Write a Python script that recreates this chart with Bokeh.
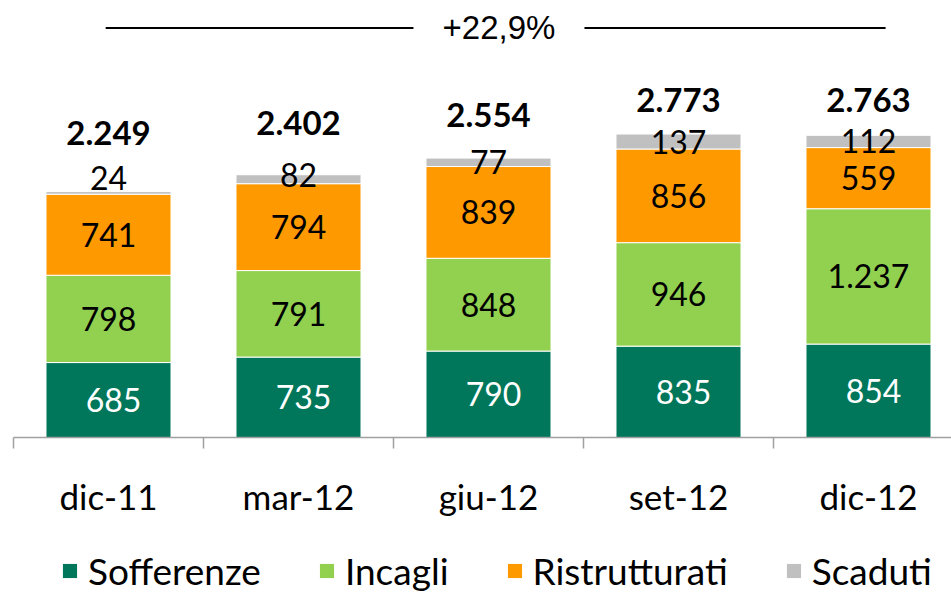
from bokeh.plotting import figure
from bokeh.models import ColumnDataSource, LinearAxis, FixedTicker, Legend, LegendItem
from bokeh.core.properties import value
from bokeh.embed import file_html
from bokeh.resources import INLINE

# ---------------- data ----------------
categories = ["dic-11", "mar-12", "giu-12", "set-12", "dic-12"]
series_names = ["Sofferenze", "Incagli", "Ristrutturati", "Scaduti"]
sofferenze = [685, 735, 790, 835, 854]
incagli = [798, 791, 848, 946, 1237]
ristrutturati = [741, 794, 839, 856, 559]
scaduti = [24, 82, 77, 137, 112]
totals = [2249, 2402, 2554, 2773, 2763]

# ---------------- styles ----------------
colors = ["#00775A", "#92D050", "#FF9900", "#C0C0C0"]
label_colors = ["white", "black", "black", "black"]
label_dx = [5, 0, 0, 0]                       # px shift of labels per series
scaduti_label_lift = [15, 4, 0, 0, 0]         # px lift of small labels
total_label_lift = [59, 52, 43, 34, 35]       # px above bar top
FONT = "Lato"

def fmt(n):
    return f"{n:,}".replace(",", ".")

xs = list(range(1, len(categories) + 1))
series = [sofferenze, incagli, ristrutturati, scaduti]

PX_X = 190.0      # px per category
PX_Y = 0.1094     # px per unit
p = figure(width=951, height=593,
           x_range=(0.5 - 13 / PX_X, 0.5 + 938 / PX_X),
           y_range=(-156 / PX_Y, 437 / PX_Y),
           output_backend="svg", toolbar_location=None,
           x_axis_location=None, y_axis_location=None,
           min_border_left=0, min_border_right=0, min_border_top=0,
           min_border_bottom=0)
p.outline_line_color = None
p.grid.visible = False
p.background_fill_color = "white"

src = ColumnDataSource(dict(x=xs, **{n: s for n, s in zip(series_names, series)}))
renderers = p.vbar_stack(series_names, x="x", width=0.658, source=src,
                         color=colors, line_color="white", line_width=1)

# segment labels
bottom = [0] * len(xs)
for k, (name, vals) in enumerate(zip(series_names, series)):
    ys = [b + v / 2 for b, v in zip(bottom, vals)]
    dy = [-l for l in scaduti_label_lift] if name == "Scaduti" else [0] * len(xs)
    lsrc = ColumnDataSource(dict(x=xs, y=ys, t=[fmt(v) for v in vals], dy=dy))
    p.text(x="x", y="y", text="t", source=lsrc, x_offset=label_dx[k], y_offset="dy",
           text_align="center", text_baseline="middle",
           text_font=value(FONT), text_font_size="32px", text_color=label_colors[k])
    bottom = [b + v for b, v in zip(bottom, vals)]

# total labels
tsrc = ColumnDataSource(dict(x=xs, y=bottom, t=[fmt(v) for v in totals],
                             dy=[-l for l in total_label_lift]))
p.text(x="x", y="y", text="t", source=tsrc, y_offset="dy",
       text_align="center", text_baseline="middle", text_font=value(FONT),
       text_font_size="33px", text_font_style="bold", text_color="black")

# growth bracket
growth = (totals[-1] / totals[0] - 1) * 100
growth_txt = f"+{growth:.1f}%".replace(".", ",")
by = max(totals) * 1.35
p.segment(x0=[0.985, 3.505], y0=[by, by], x1=[2.605, 5.09], y1=[by, by],
          line_color="black", line_width=2)
p.text(x=[3.055], y=[by], text=[growth_txt], text_align="center",
       text_baseline="middle", text_font=value("Liberation Sans"),
       text_font_size="33px", text_color="black")

# x axis drawn at y = 0
axis = LinearAxis(ticker=FixedTicker(ticks=xs, minor_ticks=[x - 0.5 for x in xs] + [xs[-1] + 0.5]),
                  fixed_location=0, bounds=(0.5, 0.5 + 938 / PX_X))
axis.major_label_overrides = {x: c for x, c in zip(xs, categories)}
axis.major_tick_out = 0
axis.major_tick_in = 0
axis.minor_tick_out = 11
axis.minor_tick_in = 0
axis.minor_tick_line_color = "#A0A0A0"
axis.minor_tick_line_width = 1.5
axis.axis_line_color = "#A0A0A0"
axis.axis_line_width = 1.5
axis.major_label_standoff = 26
axis.major_label_text_font = FONT
axis.major_label_text_font_size = "35px"
axis.major_label_text_color = "black"
p.add_layout(axis, "below")

legend = Legend(items=[LegendItem(label=n, renderers=[r]) for n, r in zip(series_names, renderers)],
                orientation="horizontal", location=(60, 0),
                glyph_width=19, glyph_height=19, label_standoff=9, spacing=56,
                padding=0, margin=0, border_line_color=None, background_fill_alpha=0,
                label_text_font=FONT, label_text_font_size="37px", label_text_color="black")
p.add_layout(legend)

open("out.html", "w").write(file_html(p, INLINE))
